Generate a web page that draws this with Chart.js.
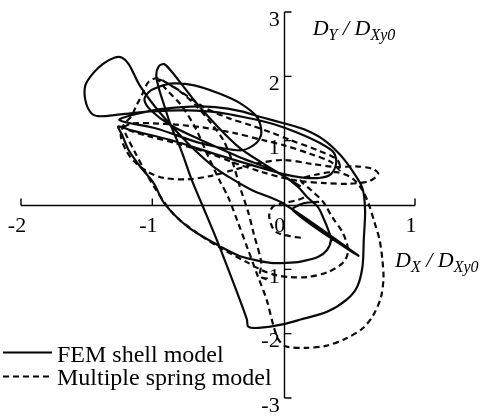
<!DOCTYPE html>
<html>
<head>
<meta charset="utf-8">
<script src="https://cdn.jsdelivr.net/npm/chart.js@4.4.1/dist/chart.umd.min.js"></script>
<style>
  html, body { margin: 0; padding: 0; background: #fff; }
  canvas { display: block; }
</style>
</head>
<body>
<canvas id="orbit" width="482" height="416"></canvas>
<script>
// axis ranges and tick values (normalised displacement D / DXy0)
var xMin = -2, xMax = 1;
var yMin = -3, yMax = 3;
var xTicks = [-2, -1, 0, 1];
var yTicks = [3, 2, 1, -1, -2, -3];
var xTickLabels = ["-2", "-1", "0", "1"];
var yTickLabels = ["3", "2", "1", "-1", "-2", "-3"];
var seriesNames = ["FEM shell model", "Multiple spring model"];

// FEM shell model orbit, [DX, DY]
var femPath = [
  [0.27, 0.05], [0.16, 0.03], [0.07, -0.08], [0.57, -0.79], [0, 0.02], [-0.24, 0.23],
  [-0.38, 0.39], [-0.53, 0.59], [-0.73, 0.96], [-0.94, 1.43], [-1.09, 1.84], [-1.18, 2.19],
  [-1.23, 2.29], [-1.29, 2.29], [-1.37, 2.20], [-1.45, 2.05], [-1.51, 1.86], [-1.51, 1.63],
  [-1.47, 1.44], [-1.41, 1.38], [-1.24, 1.41], [-0.99, 1.46], [-0.73, 1.47], [-0.50, 1.44],
  [-0.29, 1.36], [-0.08, 1.26], [0.11, 1.12], [0.28, 0.96], [0.38, 0.82], [0.40, 0.65],
  [0.36, 0.48], [0.27, 0.42], [0.13, 0.43], [0, 0.48], [-0.21, 0.60], [-0.52, 0.79],
  [-0.86, 1.01], [-1.16, 1.16], [-1.26, 1.22], [-1.23, 1.09], [-1.18, 0.85], [-1.09, 0.59],
  [-0.99, 0.34], [-0.91, 0.03], [-0.73, -0.34], [-0.53, -0.59], [-0.35, -0.78], [-0.23, -0.85],
  [-0.10, -0.90], [0.02, -0.90], [0.13, -0.88], [0.26, -0.81], [0.33, -0.70], [0.36, -0.54],
  [0.34, -0.39], [0.30, -0.19], [0.26, -0.03], [0.18, 0.12], [0.11, 0.28], [0, 0.45],
  [-0.14, 0.59], [-0.33, 0.74], [-0.63, 1.01], [-0.86, 1.24], [-1.01, 1.47], [-1.06, 1.63],
  [-1.03, 1.75], [-0.96, 1.83], [-0.84, 1.89], [-0.68, 1.86], [-0.50, 1.74], [-0.33, 1.58],
  [-0.20, 1.36], [-0.17, 1.12], [-0.21, 0.96], [-0.33, 0.85], [-0.63, 0.96], [-0.97, 1.19],
  [-1.25, 1.32], [-1.13, 1.41], [-0.94, 1.49], [-0.71, 1.53], [-0.52, 1.52], [-0.33, 1.46],
  [-0.16, 1.36], [0, 1.27], [0.15, 1.18], [0.30, 1.02], [0.43, 0.78], [0.53, 0.51],
  [0.60, 0.26], [0.62, -0.08], [0.61, -0.54], [0.60, -0.96], [0.56, -1.27], [0.48, -1.47],
  [0.33, -1.66], [0.13, -1.78], [-0.02, -1.86], [-0.19, -1.91], [-0.27, -1.89], [-0.28, -1.78],
  [-0.34, -1.44], [-0.50, -0.59], [-0.62, 0], [-0.70, 0.39], [-0.78, 0.85], [-0.86, 1.24],
  [-0.91, 1.55], [-0.95, 1.81], [-0.97, 2.02], [-0.95, 2.16], [-0.91, 2.19], [-0.86, 2.09],
  [-0.77, 1.86], [-0.65, 1.55], [-0.49, 1.19], [-0.33, 0.88], [-0.16, 0.65], [0, 0.45],
  [0.13, 0.29]
];

// multiple spring model orbit, [DX, DY]
var springPath = [
  [-0.13, -1.16], [-0.18, -1.10], [-0.17, -0.90], [-0.23, -0.43], [-0.27, -0.11], [-0.33, 0.26],
  [-0.39, 0.67], [-0.46, 1.01], [-0.56, 1.29], [-0.67, 1.55], [-0.78, 1.75], [-0.90, 1.91],
  [-0.97, 1.97], [-1.03, 1.91], [-1.07, 1.75], [-1.12, 1.55], [-1.16, 1.38], [-1.22, 1.24],
  [-1.24, 1.07], [-1.20, 0.85], [-1.14, 0.68], [-1.03, 0.51], [-0.91, 0.42], [-0.73, 0.40],
  [-0.56, 0.45], [-0.39, 0.54], [-0.19, 0.65], [0, 0.70], [0.21, 0.64], [0.40, 0.59],
  [0.55, 0.60], [0.68, 0.56], [0.72, 0.48], [0.65, 0.37], [0.49, 0.33], [0.32, 0.34],
  [0.13, 0.37], [0, 0.42], [-0.16, 0.51], [-0.37, 0.65], [-0.59, 0.82], [-0.82, 0.96],
  [-1.03, 1.07], [-1.16, 1.15], [-1.21, 1.21], [-1.15, 1.27], [-0.90, 1.26], [-0.63, 1.21],
  [-0.38, 1.12], [-0.16, 1.01], [0, 0.93], [0.21, 0.79], [0.36, 0.67], [0.43, 0.54],
  [0.41, 0.70], [0.26, 0.85], [0.05, 1.01], [-0.10, 1.13], [-0.25, 1.24], [-0.42, 1.35],
  [-0.59, 1.50], [-0.71, 1.66], [-0.84, 1.84], [-0.95, 1.95], [-0.90, 1.81], [-0.78, 1.55],
  [-0.67, 1.19], [-0.58, 0.78], [-0.49, 0.39], [-0.42, 0.11], [-0.35, -0.26], [-0.27, -0.70],
  [-0.20, -1.09], [-0.13, -1.47], [-0.08, -1.86], [-0.04, -2.09], [0.02, -2.20], [0.17, -2.22],
  [0.32, -2.19], [0.47, -2.08], [0.60, -1.92], [0.68, -1.72], [0.74, -1.44], [0.76, -1.13],
  [0.75, -0.82], [0.73, -0.54], [0.69, -0.26], [0.65, 0], [0.60, 0.23], [0.52, 0.42],
  [0.40, 0.51], [0.24, 0.47], [0.13, 0.39], [0.21, 0.23], [0.30, 0.05], [0.37, -0.19],
  [0.45, -0.43], [0.49, -0.70], [0.46, -0.88], [0.34, -1.04], [0.18, -1.12], [0.05, -1.12],
  [-0.06, -1.09], [-0.16, -1.02], [-0.27, -0.90], [-0.48, -0.67], [-0.67, -0.42], [-0.84, -0.14],
  [-0.97, 0.23], [-1.06, 0.54], [-1.14, 0.85], [-1.20, 1.09], [-1.22, 1.19]
];

// last part of the spring orbit, near the origin
var springTail = [
  [0.13, -0.51], [0.04, -0.48], [-0.05, -0.43], [-0.09, -0.33], [-0.11, -0.16],
  [-0.08, -0.02], [0, 0.03], [0.11, 0.08], [0.18, 0.14]
];

function toPoints(path) {
  return path.map(function (p) { return { x: p[0], y: p[1] }; });
}

var serif = '"Liberation Serif", "Times New Roman", serif';

function drawTitle(ctx, x, y, parts) {
  parts.forEach(function (part) {
    var sub = part[1];
    ctx.font = "italic " + (sub ? 16 : 22) + "px " + serif;
    ctx.fillText(part[0], x, sub ? y + 5 : y);
    x += ctx.measureText(part[0]).width;
  });
}

var crossAxes = {
  id: "crossAxes",
  beforeDatasetsDraw: function (chart) {
    var ctx = chart.ctx, sx = chart.scales.x, sy = chart.scales.y;
    var x0 = Math.round(sx.getPixelForValue(0)) + 0.5;
    var y0 = Math.round(sy.getPixelForValue(0)) + 0.5;
    ctx.save();
    ctx.strokeStyle = "#000";
    ctx.lineWidth = 1.4;
    ctx.beginPath();
    ctx.moveTo(sx.getPixelForValue(xMin), y0);
    ctx.lineTo(sx.getPixelForValue(xMax), y0);
    ctx.moveTo(x0, sy.getPixelForValue(yMax));
    ctx.lineTo(x0, sy.getPixelForValue(yMin));
    xTicks.forEach(function (v) {
      if (v === 0) return;
      var px = sx.getPixelForValue(v);
      ctx.moveTo(px, y0);
      ctx.lineTo(px, y0 - 7);
    });
    yTicks.forEach(function (v) {
      var py = sy.getPixelForValue(v);
      ctx.moveTo(x0, py);
      ctx.lineTo(x0 + 7, py);
    });
    ctx.stroke();
    ctx.restore();
  },
  afterDatasetsDraw: function (chart) {
    var ctx = chart.ctx, sx = chart.scales.x, sy = chart.scales.y;
    var x0 = sx.getPixelForValue(0), y0 = sy.getPixelForValue(0);
    ctx.save();
    ctx.fillStyle = "#000";
    ctx.font = "22px " + serif;
    ctx.textBaseline = "middle";

    ctx.textAlign = "center";
    xTicks.forEach(function (v, i) {
      ctx.fillText(xTickLabels[i], sx.getPixelForValue(v) - 4, y0 + 21);
    });
    ctx.textAlign = "right";
    yTicks.forEach(function (v, i) {
      ctx.fillText(yTickLabels[i], x0 - 4, sy.getPixelForValue(v) + 8);
    });

    // axis titles
    ctx.textAlign = "left";
    ctx.textBaseline = "alphabetic";
    drawTitle(ctx, x0 + 29, 35, [["D", false], ["Y", true], [" / ", false], ["D", false], ["Xy0", true]]);
    drawTitle(ctx, 395, 267, [["D", false], ["X", true], [" / ", false], ["D", false], ["Xy0", true]]);

    // legend
    ctx.strokeStyle = "#000";
    ctx.lineWidth = 2.2;
    ctx.beginPath();
    ctx.moveTo(3, 352.5);
    ctx.lineTo(52, 352.5);
    ctx.stroke();
    ctx.setLineDash([6, 4]);
    ctx.beginPath();
    ctx.moveTo(3, 376.5);
    ctx.lineTo(53, 376.5);
    ctx.stroke();
    ctx.setLineDash([]);
    ctx.font = "24px " + serif;
    ctx.fillText(seriesNames[0], 57, 362);
    ctx.fillText(seriesNames[1], 57, 385);
    ctx.restore();
  }
};

var lineStyle = {
  showLine: true,
  borderColor: "#0a0a0a",
  borderWidth: 2.2,
  pointRadius: 0,
  tension: 0.3,
  fill: false
};

new Chart(document.getElementById("orbit"), {
  type: "scatter",
  data: {
    datasets: [
      Object.assign({ label: seriesNames[0], data: toPoints(femPath) }, lineStyle),
      Object.assign({ label: seriesNames[1], data: toPoints(springPath), borderDash: [6, 4] }, lineStyle),
      Object.assign({ label: seriesNames[1], data: toPoints(springTail), borderDash: [6, 4] }, lineStyle)
    ]
  },
  options: {
    responsive: false,
    animation: false,
    devicePixelRatio: 1,
    layout: { padding: { left: 21, right: 67, top: 12, bottom: 18 } },
    scales: {
      x: { type: "linear", min: xMin, max: xMax, display: false },
      y: { type: "linear", min: yMin, max: yMax, display: false }
    },
    plugins: {
      legend: { display: false },
      tooltip: { enabled: false }
    }
  },
  plugins: [crossAxes]
});
</script>
</body>
</html>
